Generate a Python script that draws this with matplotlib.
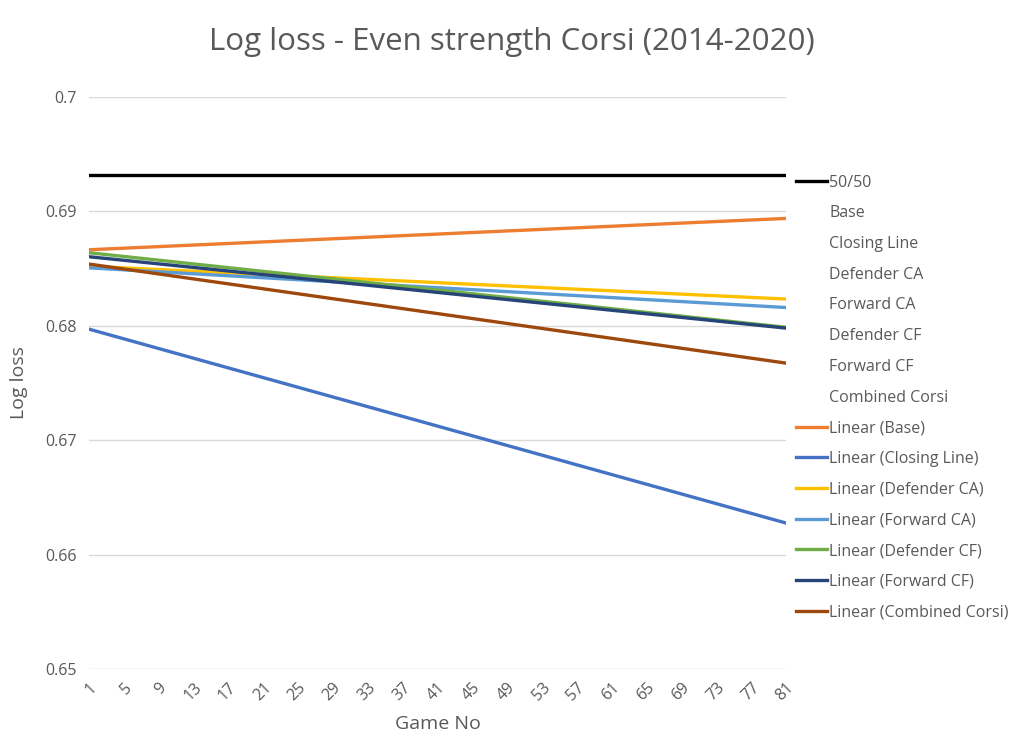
import matplotlib.pyplot as plt
from matplotlib.lines import Line2D

plt.rcParams['font.family'] = ['Open Sans', 'DejaVu Sans']

# game range covered by the trendlines
games = [1, 81]
tick_games = list(range(1, 82, 4))

# 50/50 baseline
coin_flip = 0.693147

series_names = ["Base", "Closing Line", "Defender CA", "Forward CA",
                "Defender CF", "Forward CF", "Combined Corsi"]
trend_start = [0.68665, 0.67971, 0.68521, 0.68507, 0.68639, 0.68604, 0.68540]
trend_end = [0.68939, 0.66276, 0.68234, 0.68160, 0.67987, 0.67980, 0.67674]
colors = ["#ED7D31", "#4472C4", "#FFC000", "#5B9BD5", "#70AD47", "#264478", "#9E480E"]

yticks = [0.65, 0.66, 0.67, 0.68, 0.69, 0.70]
ytick_labels = ["0.65", "0.66", "0.67", "0.68", "0.69", "0.7"]

fig = plt.figure(figsize=(10.24, 7.43), dpi=100)
ax = fig.add_axes([0.0869, 0.0996, 0.6807, 0.7698])

grey = "#595959"

ax.plot(games, [coin_flip, coin_flip], color="black", lw=2.4, label="50/50", zorder=3)
for s, e, c, name in zip(trend_start, trend_end, colors, series_names):
  ax.plot(games, [s, e], color=c, lw=2.4, zorder=3)

ax.set_xlim(1, 81)
ax.set_ylim(0.65, 0.70)
ax.set_yticks(yticks)
ax.set_yticklabels(ytick_labels, color=grey, fontsize=11.5)
ax.set_xticks(tick_games)
ax.set_xticklabels([str(g) for g in tick_games], rotation=45, ha='right', va='top',
                   rotation_mode='anchor', color=grey, fontsize=11.5)
ax.tick_params(axis='y', length=0, pad=9)
ax.tick_params(axis='x', length=0, pad=8)
ax.grid(axis='y', color='#d9d9d9', lw=1)
ax.set_axisbelow(True)
for sp in ax.spines.values():
  sp.set_visible(False)

ax.set_xlabel("Game No", color=grey, fontsize=14, labelpad=8)
ax.set_ylabel("Log loss", color=grey, fontsize=14, labelpad=12)
fig.text(0.5, 0.943, "Log loss - Even strength Corsi (2014-2020)", ha='center', va='center',
         color=grey, fontsize=22.5)

# legend: the raw series have no visible marks, only the trendlines do
handles = [Line2D([], [], color="black", lw=2.4)]
labels = ["50/50"]
for name in series_names:
  handles.append(Line2D([], [], color="none"))
  labels.append(name)
for name, c in zip(series_names, colors):
  handles.append(Line2D([], [], color=c, lw=2.4))
  labels.append(f"Linear ({name})")

leg = fig.legend(handles, labels, loc='upper left', bbox_to_anchor=(0.771, 0.7735),
                 frameon=False, fontsize=11.5, handlelength=1.95, handletextpad=0.15,
                 labelspacing=0.92, borderaxespad=0)
for t in leg.get_texts():
  t.set_color(grey)

plt.savefig("out.png", dpi=100)
